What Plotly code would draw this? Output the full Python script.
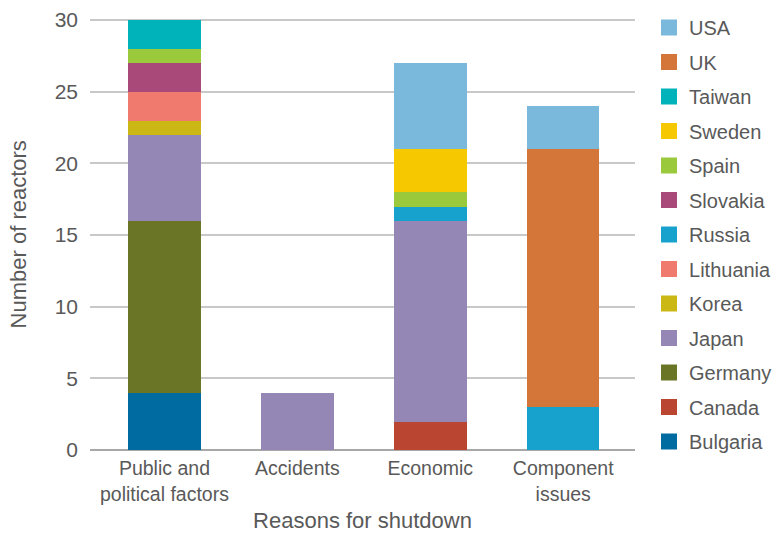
import plotly.graph_objects as go

# Reasons for reactor shutdown, number of reactors per country
reasons = ["Public and<br>political factors", "Accidents", "Economic", "Component<br>issues"]

countries = ["Bulgaria", "Canada", "Germany", "Japan", "Korea", "Lithuania",
             "Russia", "Slovakia", "Spain", "Sweden", "Taiwan", "UK", "USA"]

bulgaria = [4, 0, 0, 0]
canada = [0, 0, 2, 0]
germany = [12, 0, 0, 0]
japan = [6, 4, 14, 0]
korea = [1, 0, 0, 0]
lithuania = [2, 0, 0, 0]
russia = [0, 0, 1, 3]
slovakia = [2, 0, 0, 0]
spain = [1, 0, 1, 0]
sweden = [0, 0, 3, 0]
taiwan = [2, 0, 0, 0]
uk = [0, 0, 0, 18]
usa = [0, 0, 6, 3]

series = [bulgaria, canada, germany, japan, korea, lithuania,
          russia, slovakia, spain, sweden, taiwan, uk, usa]

colors = ["#006BA1", "#BA4530", "#6A7526", "#9587B5", "#CBB814", "#F07A6E",
          "#17A2CE", "#A8497A", "#9BC93C", "#F5C800", "#00B3BA", "#D4763A", "#7AB8DC"]

FONT = "Liberation Sans, Arial, sans-serif"
GREY = "#595959"

fig = go.Figure()

# stacked bars, first country at the bottom
for name, vals, col in zip(countries, series, colors):
    fig.add_trace(go.Bar(
        x=list(range(len(reasons))), y=vals, name=name,
        marker=dict(color=col, line=dict(width=0)),
        width=0.545, showlegend=False,
    ))

# legend entries with square swatches, listed top-down from USA to Bulgaria
for name, col in reversed(list(zip(countries, colors))):
    fig.add_trace(go.Scatter(
        x=[None], y=[None], mode="markers", name=name, legendgroup=name,
        marker=dict(symbol="square", size=16, color=col, line=dict(width=0)),
    ))

fig.update_layout(
    barmode="stack",
    width=779, height=533,
    margin=dict(l=90, r=144, t=5, b=10, autoexpand=False),
    paper_bgcolor="white", plot_bgcolor="white",
    font=dict(family=FONT, color=GREY, size=20),
    xaxis=dict(
        tickmode="array", tickvals=list(range(len(reasons))), ticktext=reasons,
        range=[-0.56, 3.54], showgrid=False, zeroline=False, showline=False,
        ticks="", tickfont=dict(size=19.5, color=GREY), automargin=False,
        ticklabelstandoff=5,
        title=dict(text="Reasons for shutdown", font=dict(size=22, color=GREY), standoff=14),
    ),
    yaxis=dict(
        domain=[0.14093, 0.97381], automargin=False,
        range=[0, 30.1], tickvals=[0, 5, 10, 15, 20, 25, 30],
        showgrid=True, gridcolor="#C8C8C8", gridwidth=2,
        zeroline=True, zerolinecolor="#A8A8A8", zerolinewidth=2,
        ticks="", ticklabelstandoff=11, tickfont=dict(size=21, color=GREY),
        title=dict(text="Number of reactors", font=dict(size=22, color=GREY), standoff=21),
    ),
    legend=dict(
        traceorder="grouped", tracegroupgap=5.5,
        x=1.0257, y=0.9942, xanchor="left", yanchor="top",
        font=dict(size=20, color=GREY),
        bgcolor="rgba(0,0,0,0)",
    ),
    bargap=0,
)

fig.write_html("out.html")
